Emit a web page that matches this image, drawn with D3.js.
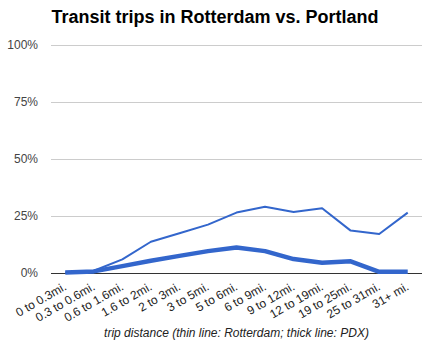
<!DOCTYPE html>
<html><head><meta charset="utf-8">
<script src="https://cdn.jsdelivr.net/npm/d3@7"></script>
<style>body{margin:0;background:#fff;}svg{display:block;font-family:Arial,"Liberation Sans",sans-serif;}</style>
</head><body>
<svg id="c" width="433" height="344"></svg>
<script>
const categories = ["0 to 0.3mi.","0.3 to 0.6mi.","0.6 to 1.6mi.","1.6 to 2mi.","2 to 3mi.","3 to 5mi.","5 to 6mi.","6 to 9mi.","9 to 12mi.","12 to 19mi.","19 to 25mi.","25 to 31mi.","31+ mi."];
const rotterdam = [0.2, 1.0, 6.0, 13.7, 17.4, 21.2, 26.5, 29.1, 26.8, 28.4, 18.6, 17.1, 26.5];
const pdx = [0.2, 0.7, 3.0, 5.4, 7.5, 9.6, 11.2, 9.6, 6.1, 4.5, 5.1, 0.5, 0.5];
const yTicks = [0, 25, 50, 75, 100];
const title = "Transit trips in Rotterdam vs. Portland";
const xTitle = "trip distance (thin line: Rotterdam; thick line: PDX)";

const svg = d3.select("#c");
const L = 51, R = 422, T = 45, B = 273;
const x = d3.scaleBand().domain(categories).range([L, R]);
const y = d3.scaleLinear().domain([0, 100]).range([B, T]);
const cx = d => x(d) + x.bandwidth() / 2;

svg.append("text").attr("x", 215).attr("y", 23).attr("text-anchor", "middle")
  .attr("font-size", 18).attr("font-weight", "bold").attr("fill", "#000").text(title);

const yAxis = d3.axisLeft(y).tickValues(yTicks).tickSize(-(R - L)).tickFormat(d => d + "%");
const gy = svg.append("g").attr("transform", `translate(${L},0)`).call(yAxis);
gy.select(".domain").remove();
gy.selectAll(".tick line").attr("stroke", d => d === 0 ? "#333" : "#ccc").attr("stroke-width", 1);
gy.selectAll(".tick text").attr("x", -13).attr("fill", "#444").attr("font-size", 12).attr("font-family", "Arial, 'Liberation Sans', sans-serif");
gy.selectAll(".tick").filter(d => d === 0).raise();

const line = d3.line().x((d, i) => cx(categories[i])).y(d => y(d));
svg.append("path").datum(rotterdam).attr("d", line).attr("fill", "none")
  .attr("stroke", "#3366cc").attr("stroke-width", 2).attr("stroke-linejoin", "round");
svg.append("path").datum(pdx).attr("d", line).attr("fill", "none")
  .attr("stroke", "#3366cc").attr("stroke-width", 4.5).attr("stroke-linejoin", "round");

const xAxis = d3.axisBottom(x).tickSize(0);
const gx = svg.append("g").attr("transform", `translate(0,${B})`).call(xAxis);
gx.select(".domain").remove();
gx.selectAll(".tick text")
  .attr("text-anchor", "end").attr("fill", "#222").attr("font-size", 12)
  .attr("font-family", "Arial, 'Liberation Sans', sans-serif")
  .attr("x", 0).attr("y", 0).attr("dy", 0)
  .attr("transform", "translate(2,16) rotate(-30)");

svg.append("text").attr("x", 236.5).attr("y", 337).attr("text-anchor", "middle")
  .attr("font-size", 12).attr("font-style", "italic").attr("fill", "#222").text(xTitle);
</script>
</body></html>
